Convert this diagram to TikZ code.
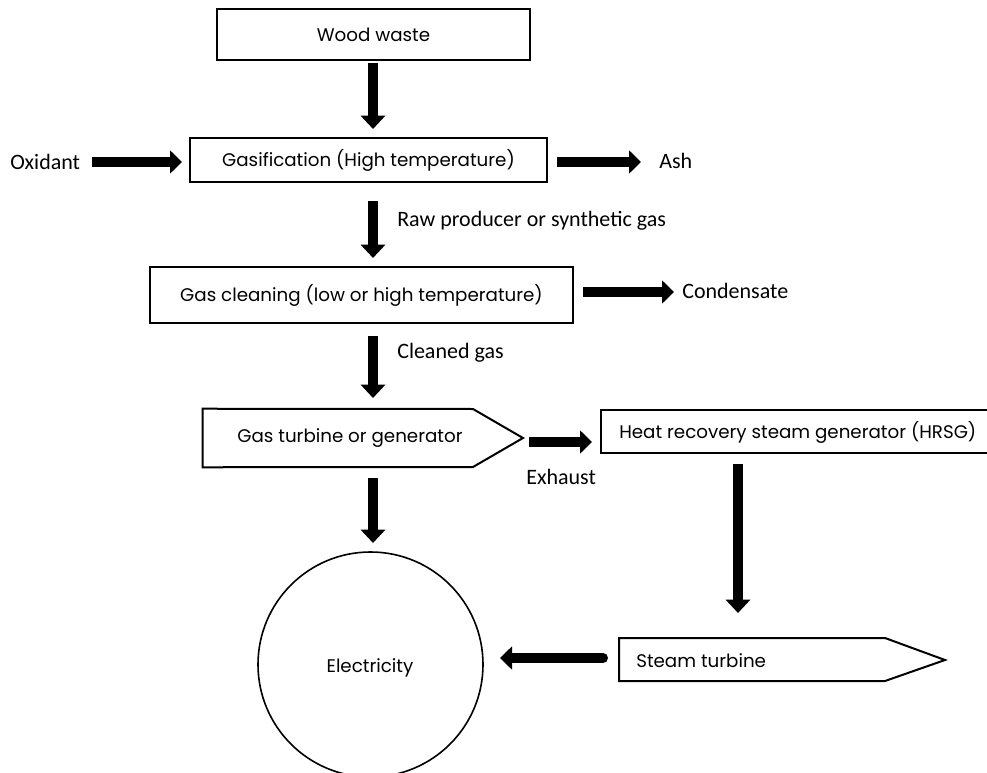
\documentclass[tikz,border=0pt]{standalone}
\usepackage{fontspec}
\usetikzlibrary{arrows.meta,shapes.geometric}
\newfontfamily\calib{Carlito}
\newfontfamily\gothic{Poppins}
\begin{document}
\begin{tikzpicture}[x=0.75pt,y=-0.75pt,
  box/.style={draw,line width=1.5pt,inner sep=0pt,font=\gothic\fontsize{13.7}{16}\selectfont},
  gtext/.style={inner sep=0pt,font=\gothic\fontsize{13.7}{16}\selectfont},
  lbl/.style={inner sep=0pt,font=\calib\fontsize{16.5}{19}\selectfont},
  blk/.style={line width=8pt,-{Triangle[width=18pt,length=10pt]}},
  blkh/.style={line width=7.5pt,-{Triangle[width=17pt,length=9pt]}}]
\useasboundingbox (0,0) rectangle (987,773);
% boxes
\node[box,minimum width=234.75pt,minimum height=38.25pt] (ww) at (373.5,34.5) {Wood waste};
\node[box,minimum width=267.75pt,minimum height=33pt] (gas) at (368.5,160) {Gasification (High temperature)};
\node[box,minimum width=317.25pt,minimum height=42pt] (clean) at (361.5,295) {Gas cleaning (low or high temperature)};
\node[box,minimum width=291.75pt,minimum height=32.25pt] (hrsg) at (795.5,431.5) {};
\node[gtext,anchor=west] (hrsgt) at (619,432) {Heat recovery steam generator (HRSG)};
% gas turbine
\node[gtext,minimum width=220.5pt,minimum height=43.5pt] (gt) at (350,438) {Gas turbine or generator};
\coordinate (gttip) at (523,438);
\draw[line width=1.5pt,line join=miter] (gt.north west) -- (473,409) -- (gttip) -- (473,467) -- (gt.south west) -- cycle;
% steam turbine
\coordinate (stw) at (619,638);
\coordinate (sttip) at (945,660);
\draw[line width=1.5pt,line join=miter] (stw) -- (885,638) -- (sttip) -- (885,681) -- (619,681) -- cycle;
\node[gtext,anchor=west] (st) at (636,661) {Steam turbine};
% electricity
\begin{scope}
\clip (0,0) rectangle (987,773);
\node[draw,circle,line width=1.2pt,minimum size=168.75pt,inner sep=0pt] (el) at (370.5,664.5) {};
\end{scope}
\node[gtext] (elt) at (370,668) {Electricity};
% labels
\node[lbl,anchor=west] (ox) at (10,162) {Oxidant};
\node[lbl,anchor=west] (ash) at (659,161) {Ash};
\node[lbl,anchor=west] (raw) at (397,221) {Raw producer or synthetic gas};
\node[lbl,anchor=west] (cond) at (682,291) {Condensate};
\node[lbl,anchor=west] (cg) at (397,353) {Cleaned gas};
\node[lbl,anchor=west] (exh) at (526,477) {Exhaust};
% arrow endpoints
\coordinate (a1s) at (373,63);  \coordinate (a1e) at (373,129);
\coordinate (a2s) at (92,162);  \coordinate (a2e) at (182,162);
\coordinate (a3s) at (557,162); \coordinate (a3e) at (641,162);
\coordinate (a4s) at (373,201); \coordinate (a4e) at (373,258);
\coordinate (a5s) at (583,292); \coordinate (a5e) at (674,292);
\coordinate (a6s) at (373,336); \coordinate (a6e) at (373,398);
\coordinate (a7s) at (529,442); \coordinate (a7e) at (592,442);
\coordinate (a8s) at (373,478); \coordinate (a8e) at (373,543);
\coordinate (a9s) at (738,464); \coordinate (a9e) at (738,613);
\coordinate (a10s) at (603,658); \coordinate (a10e) at (500,658);
\draw[blk] (a1s) -- (a1e);
\draw[blkh] (a2s) -- (a2e);
\draw[blkh] (a3s) -- (a3e);
\draw[blk] (a4s) -- (a4e);
\draw[blkh] (a5s) -- (a5e);
\draw[blk] (a6s) -- (a6e);
\draw[blkh] (a7s) -- (a7e);
\draw[blk] (a8s) -- (a8e);
\draw[blk] (a9s) -- (a9e);
\draw[blkh,line cap=round] (a10s) -- (a10e);
\end{tikzpicture}
\end{document}
